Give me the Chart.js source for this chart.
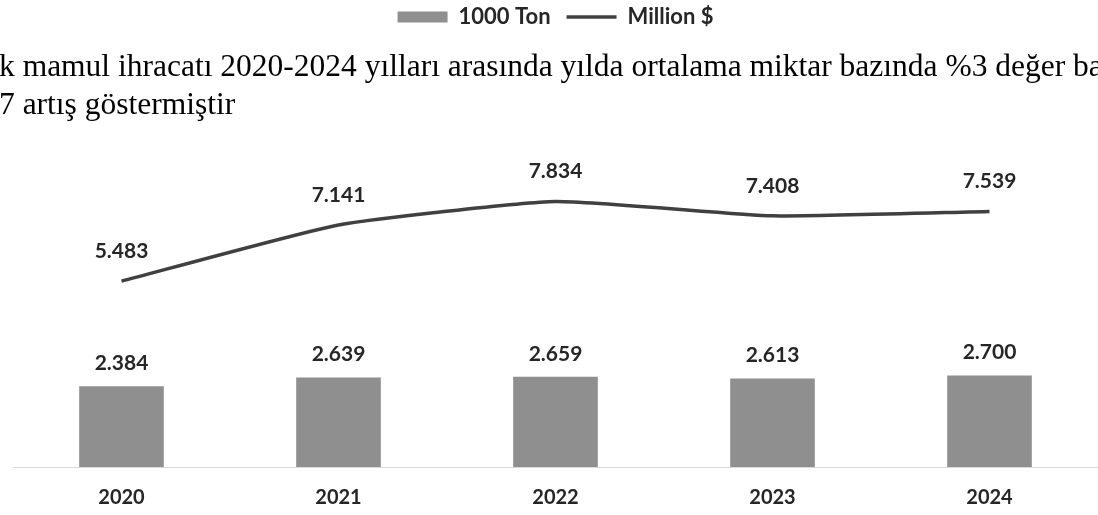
<!DOCTYPE html>
<html>
<head>
<meta charset="utf-8">
<script src="https://cdn.jsdelivr.net/npm/chart.js@4.4.1/dist/chart.umd.min.js"></script>
<style>
    html, body { margin: 0; padding: 0; background: #fff; }
    #wrap { position: relative; width: 1098px; height: 515px; overflow: hidden; }
    #note {
        position: absolute; left: -1px; top: 47px; width: 1300px;
        font-family: "Liberation Serif", "Times New Roman", serif;
        font-size: 31.5px; line-height: 38px; color: #000; white-space: nowrap;
    }
</style>
</head>
<body>
<div id="wrap">
    <canvas id="grafik" width="1098" height="515"></canvas>
    <div id="note">k mamul ihracatı 2020-2024 yılları arasında yılda ortalama miktar bazında %3 değer ba<br>7 artış göstermiştir</div>
</div>
<script>
// data
var tahun = ['2020', '2021', '2022', '2023', '2024'];
var ton = [2384, 2639, 2659, 2613, 2700];
var dolar = [5483, 7141, 7834, 7408, 7539];

var fontLabel = 'Lato, "Open Sans", sans-serif';

// format angka 5.483
function format_angka(v) {
    var ribu = Math.floor(v / 1000);
    var sisa = String(v % 1000).padStart(3, '0');
    return ribu + '.' + sisa;
}

// label di atas bar / titik
var labelPlugin = {
    id: 'labelAtas',
    afterDatasetsDraw: function (chart) {
        var ctx = chart.ctx;
        ctx.save();
        ctx.font = 'bold 21px ' + fontLabel;
        ctx.fillStyle = '#262626';
        ctx.textAlign = 'center';
        ctx.textBaseline = 'middle';
        chart.data.datasets.forEach(function (ds, i) {
            var meta = chart.getDatasetMeta(i);
            var jarak = ds.type === 'line' ? 30 : 23;
            meta.data.forEach(function (el, j) {
                ctx.fillText(format_angka(ds.data[j]), el.x, el.y - jarak);
            });
        });
        ctx.restore();
    }
};

// legend dibuat lebih tinggi supaya area chart mulai di bawah teks
var legendPlugin = {
    id: 'tinggiLegend',
    beforeInit: function (chart) {
        var fitAsli = chart.legend.fit;
        chart.legend.fit = function () {
            fitAsli.bind(chart.legend)();
            this.height = 138;
        };
    }
};

var ctx = document.getElementById('grafik').getContext('2d');
var myChart = new Chart(ctx, {
    type: 'bar',
    data: {
        labels: tahun,
        datasets: [{
            type: 'bar',
            label: '1000 Ton',
            data: ton,
            backgroundColor: '#8f8f8f',
            pointStyle: 'rect',
            barPercentage: 0.39,
            categoryPercentage: 1
        }, {
            type: 'line',
            label: 'Million $',
            data: dolar,
            borderColor: '#404040',
            backgroundColor: '#404040',
            borderWidth: 3.5,
            pointRadius: 0,
            pointStyle: 'line',
            tension: 0.15
        }]
    },
    options: {
        responsive: false,
        animation: false,
        layout: { padding: { left: 13, right: 0, top: -10, bottom: 0 } },
        plugins: {
            tooltip: { enabled: false },
            legend: {
                position: 'top',
                labels: {
                    usePointStyle: true,
                    pointStyleWidth: 50,
                    boxHeight: 11,
                    color: '#262626',
                    padding: 16,
                    font: { family: fontLabel, size: 22, weight: 'bold' }
                }
            }
        },
        scales: {
            x: {
                grid: { display: false, drawTicks: false },
                border: { color: '#d9d9d9', width: 1 },
                ticks: {
                    color: '#262626',
                    padding: 19,
                    font: { family: fontLabel, size: 20, weight: 'bold' }
                },
                afterFit: function (scale) { scale.height = 48; }
            },
            y: {
                display: false,
                min: 0,
                max: 10000
            }
        }
    },
    plugins: [labelPlugin, legendPlugin]
});
</script>
</body>
</html>
